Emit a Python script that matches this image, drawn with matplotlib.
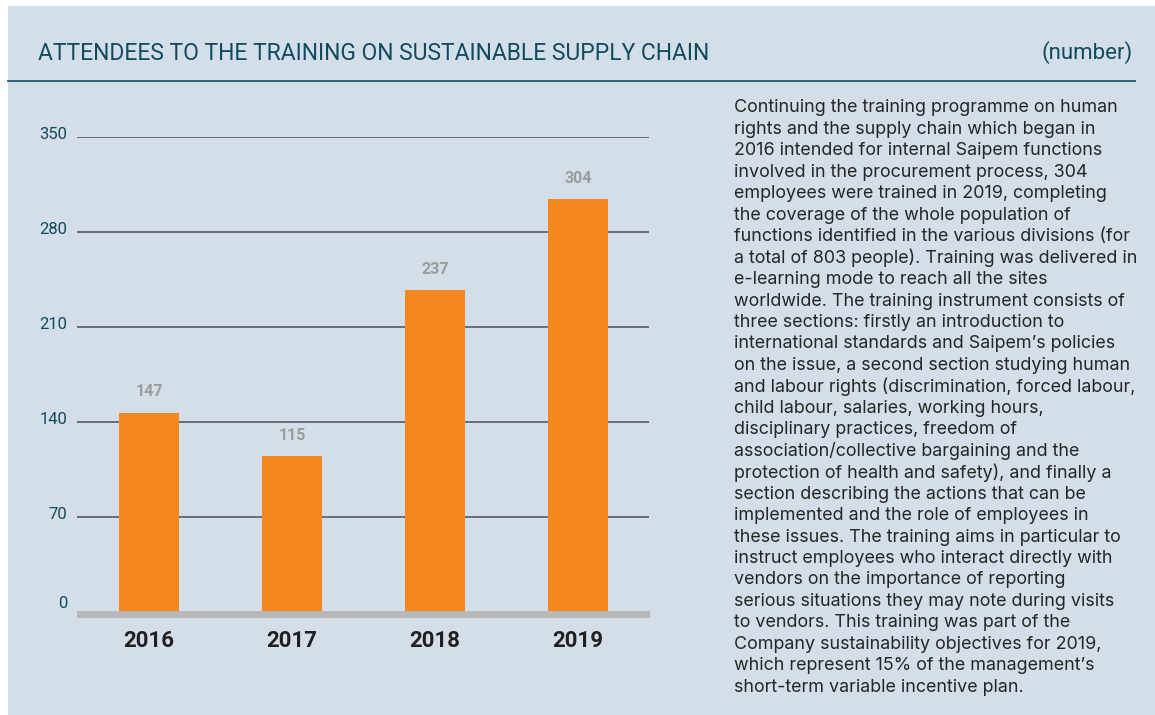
import matplotlib
matplotlib.use("Agg")
import matplotlib.pyplot as plt
import numpy as np
from matplotlib.patches import Rectangle
from matplotlib.transforms import ScaledTranslation
from matplotlib.colors import LinearSegmentedColormap

# Data
years = ["2016", "2017", "2018", "2019"]
attendees = [147, 115, 237, 304]
y_ticks = [0, 70, 140, 210, 280, 350]

title = "ATTENDEES TO THE TRAINING ON SUSTAINABLE SUPPLY CHAIN"
unit = "(number)"
body_lines = [
    "Continuing the training programme on human",
    "rights and the supply chain which began in",
    "2016 intended for internal Saipem functions",
    "involved in the procurement process, 304",
    "employees were trained in 2019, completing",
    "the coverage of the whole population of",
    "functions identified in the various divisions (for",
    "a total of 803 people). Training was delivered in",
    "e-learning mode to reach all the sites",
    "worldwide. The training instrument consists of",
    "three sections: firstly an introduction to",
    "international standards and Saipem\u2019s policies",
    "on the issue, a second section studying human",
    "and labour rights (discrimination, forced labour,",
    "child labour, salaries, working hours,",
    "disciplinary practices, freedom of",
    "association/collective bargaining and the",
    "protection of health and safety), and finally a",
    "section describing the actions that can be",
    "implemented and the role of employees in",
    "these issues. The training aims in particular to",
    "instruct employees who interact directly with",
    "vendors on the importance of reporting",
    "serious situations they may note during visits",
    "to vendors. This training was part of the",
    "Company sustainability objectives for 2019,",
    "which represent 15% of the management\u2019s",
    "short-term variable incentive plan.",
]

W, H = 1155, 715
PANEL = "#d3dee8"
TEAL = "#0f4c60"
ORANGE = "#f58720"

fig = plt.figure(figsize=(W / 100, H / 100), dpi=100)
fig.patch.set_facecolor("white")


def fx(px):
    return px / W


def fy(py):
    return 1 - py / H


# Background panel
fig.patches.append(Rectangle((fx(8), 0), 1 - fx(8), fy(6), transform=fig.transFigure,
                             facecolor=PANEL, edgecolor="none", zorder=0))

# Header
fig.text(fx(38), fy(53), title, fontsize=16.5, color=TEAL, family="Roboto",
         ha="left", va="center")
fig.text(fx(1133), fy(53), unit, fontsize=16, color=TEAL, family="Roboto",
         ha="right", va="center")
fig.add_artist(plt.Line2D([fx(8), fx(1135)], [fy(81), fy(81)], transform=fig.transFigure,
                          color="#1d5a6e", lw=1.3))

# Gradient backdrop behind the bars
gax = fig.add_axes([fx(111), fy(612), fx(619) - fx(111), fy(100) - fy(612)], zorder=0)
cmap = LinearSegmentedColormap.from_list("fade", [PANEL, "#e3e9f0", "#ffffff"])
grad = np.linspace(0, 1, 256).reshape(-1, 1)
gax.imshow(grad, aspect="auto", cmap=cmap, extent=[0, 1, 0, 1], origin="upper")
gax.set_axis_off()

# Main chart axes
ax = fig.add_axes([fx(77), fy(612), fx(649) - fx(77), fy(137) - fy(612)], zorder=1)
ax.patch.set_alpha(0)
x = np.arange(len(years))
ax.set_xlim(-0.5035, 3.4965)
ax.set_ylim(0, 350)

for t in y_ticks[1:]:
    ax.axhline(t, color="#4a4f58", lw=1.1, zorder=1)

ax.bar(x, attendees, width=0.42, color=ORANGE, zorder=2)

for xi, v in zip(x, attendees):
    ax.annotate(str(v), (xi, v), xytext=(0, 13), textcoords="offset pixels",
                ha="center", va="bottom", fontsize=11.5, fontweight="bold",
                color="#9b9b9b", family="Roboto")

# Grey baseline strip
base = Rectangle((fx(77), fy(618)), fx(650) - fx(77), fy(611) - fy(618),
                 transform=fig.transFigure, facecolor="#b8b8bb", edgecolor="none", zorder=3)
fig.patches.append(base)

for s in ax.spines.values():
    s.set_visible(False)

ax.set_yticks(y_ticks)
ax.set_yticklabels([str(t) for t in y_ticks])
ax.tick_params(axis="y", length=0, pad=7.0, labelsize=12, labelcolor=TEAL)
for lab in ax.get_yticklabels():
    lab.set_family("Roboto")
    lab.set_transform(lab.get_transform() + ScaledTranslation(0, 3 / 72, fig.dpi_scale_trans))
ax.get_yticklabels()[0].set_transform(
    ax.get_yticklabels()[0].get_transform() + ScaledTranslation(0, 4 / 72, fig.dpi_scale_trans))

ax.set_xticks(x)
ax.set_xticklabels(years)
ax.tick_params(axis="x", length=0, pad=13, labelsize=16, labelcolor="#231f20")
for lab in ax.get_xticklabels():
    lab.set_family("Roboto")
    lab.set_fontweight("bold")

# Body text
y0 = 108
step = 21.45
for i, line in enumerate(body_lines):
    fig.text(fx(734), fy(y0 + i * step), line, fontsize=12.9, color="#262626",
             family="Inter", ha="left", va="center")

fig.savefig("out.png", dpi=100, facecolor=fig.get_facecolor())
